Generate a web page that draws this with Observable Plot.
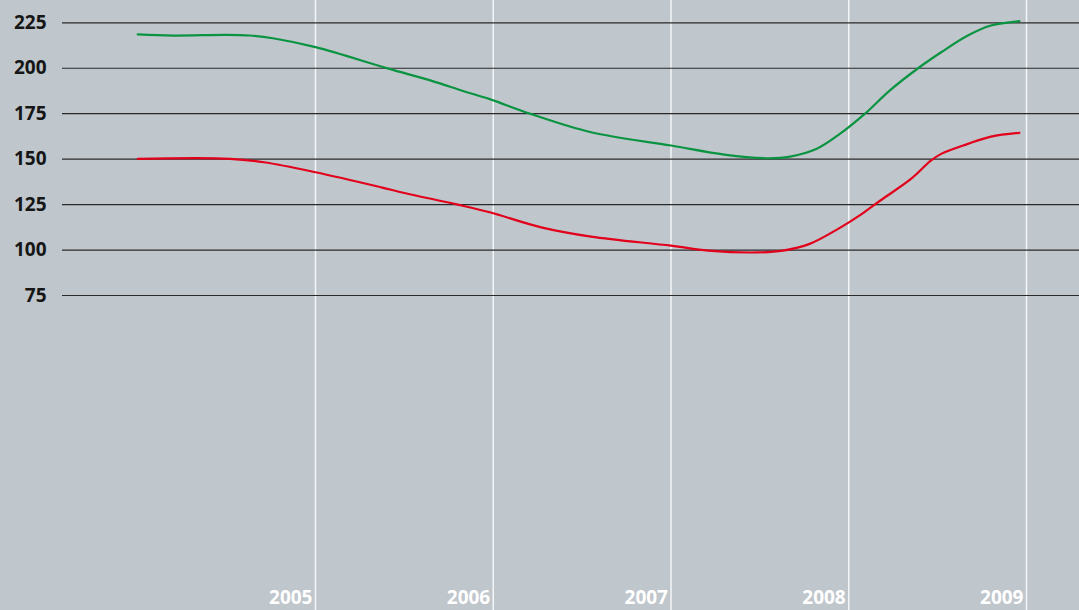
<!DOCTYPE html>
<html>
<head>
<meta charset="utf-8">
<script src="https://cdn.jsdelivr.net/npm/d3@7"></script>
<script src="https://cdn.jsdelivr.net/npm/@observablehq/plot@0.6"></script>
<style>
  html, body { margin: 0; padding: 0; background: #bfc6cc; }
  #chart svg { display: block; }
</style>
</head>
<body>
<div id="chart"></div>
<script>
const yTicks = [75, 100, 125, 150, 175, 200, 225];
const xTicks = [2005, 2006, 2007, 2008, 2009];

const greenYears = [2004.0, 2004.2, 2004.5, 2004.63, 2004.76, 2005.0, 2005.41, 2005.65, 2005.83, 2005.98, 2006.21, 2006.55, 2007.0, 2007.3, 2007.54, 2007.67, 2007.82, 2007.95, 2008.09, 2008.23, 2008.39, 2008.52, 2008.67, 2008.8, 2008.96];
const greenValues = [218.6, 218.0, 218.4, 218.0, 216.5, 211.6, 199.8, 193.2, 187.5, 183.0, 174.9, 164.8, 157.5, 152.5, 150.5, 151.4, 155.7, 163.9, 174.9, 187.7, 200.0, 208.8, 218.0, 223.5, 225.9];

const redYears = [2004.0, 2004.52, 2004.71, 2005.0, 2005.37, 2005.5, 2005.8, 2005.98, 2006.27, 2006.55, 2007.0, 2007.21, 2007.49, 2007.63, 2007.78, 2007.95, 2008.07, 2008.18, 2008.35, 2008.46, 2008.52, 2008.67, 2008.8, 2008.96];
const redValues = [150.2, 150.2, 148.3, 142.8, 134.5, 131.4, 125.0, 120.8, 112.5, 107.4, 102.4, 99.7, 98.7, 99.7, 103.4, 112.2, 119.6, 127.4, 139.1, 149.0, 152.9, 158.4, 162.4, 164.5];

const green = greenYears.map((t, i) => ({t, v: greenValues[i]}));
const red = redYears.map((t, i) => ({t, v: redValues[i]}));

const chart = Plot.plot({
  width: 1079,
  height: 610,
  marginLeft: 62,
  marginRight: 0,
  marginTop: 0,
  marginBottom: 0,
  style: {background: "#bfc6cc", fontFamily: "'Open Sans', sans-serif"},
  x: {domain: [2005, 2009], range: [315, 1026], axis: null},
  y: {domain: [75, 225], range: [295, 22.3], axis: null},
  marks: [
    Plot.ruleX(xTicks, {stroke: "#f4f6f7", strokeWidth: 1.5}),
    Plot.ruleY(yTicks, {stroke: "#2a2a2a", strokeWidth: 1.2}),
    Plot.axisY(yTicks, {label: null, tickSize: 0, tickPadding: 16, fontSize: 19, fontWeight: 700, fill: "#161616", tickFormat: d => String(d)}),
    Plot.text(xTicks, {x: d => d, text: d => String(d), frameAnchor: "bottom", lineAnchor: "middle", textAnchor: "end", dx: -3, dy: -13, fontSize: 19, fontWeight: 700, fill: "#ffffff"}),
    Plot.line(green, {x: "t", y: "v", stroke: "#0a9441", strokeWidth: 2.2, curve: "catmull-rom"}),
    Plot.line(red, {x: "t", y: "v", stroke: "#e2001a", strokeWidth: 2.2, curve: "catmull-rom"})
  ]
});
document.getElementById("chart").appendChild(chart);
</script>
</body>
</html>
